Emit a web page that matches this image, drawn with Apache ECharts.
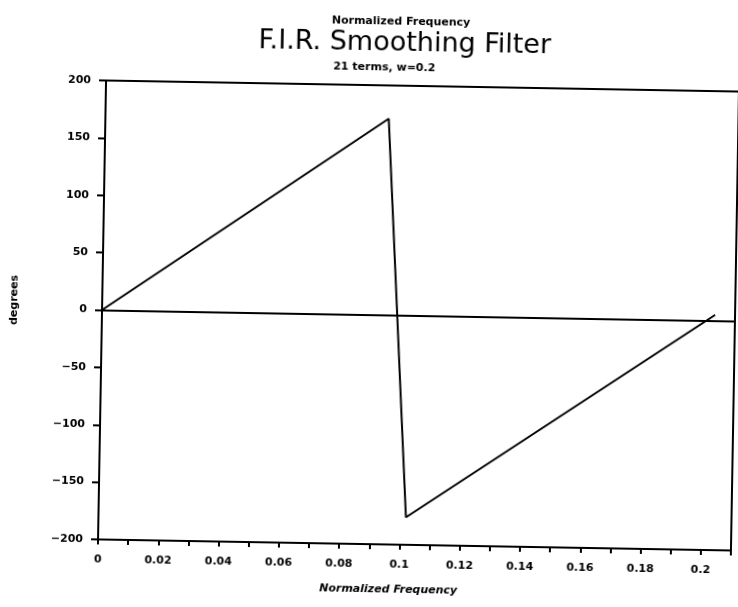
<!DOCTYPE html>
<html>
<head>
<meta charset="utf-8">
<title>F.I.R. Smoothing Filter</title>
<script src="https://cdn.jsdelivr.net/npm/echarts@6/dist/echarts.min.js"></script>
<style>
  html, body { margin: 0; padding: 0; background: #fff; overflow: hidden; }
  /* the plotted sheet sits about one degree off square */
  #chart { width: 738px; height: 607px; transform: rotate(1deg); transform-origin: 419px 315px; }
</style>
</head>
<body>
<div id="chart"></div>
<script>
// Phase response of the smoothing filter (normalized frequency, degrees)
const freq  = [0, 0.094, 0.102, 0.2034];
const phase = [0, 171, -176, 5];

// Axis ticks
const xTickValues = [0, 0.02, 0.04, 0.06, 0.08, 0.1, 0.12, 0.14, 0.16, 0.18, 0.2];
const xTickLabels = ['0', '0.02', '0.04', '0.06', '0.08', '0.1', '0.12', '0.14', '0.16', '0.18', '0.2'];
const yTickValues = [-200, -150, -100, -50, 0, 50, 100, 150, 200];
const yTickLabels = ['\u2212200', '\u2212150', '\u2212100', '\u221250', '0', '50', '100', '150', '200'];

const topLabel = 'Normalized Frequency';
const mainTitle = 'F.I.R. Smoothing Filter';
const subTitle = '21 terms, w=0.2';
const xName = 'Normalized Frequency';
const yName = 'degrees';

const ink = '#000';
const tickFont = { fontFamily: 'DejaVu Sans', fontWeight: 'bold', fontSize: 11, color: ink };

const chart = echarts.init(document.getElementById('chart'), null, { renderer: 'canvas' });

chart.setOption({
  backgroundColor: '#fff',
  animation: false,
  title: [
    { text: topLabel, left: 391, top: 12, textAlign: 'center',
      textStyle: { fontFamily: 'DejaVu Sans', fontWeight: 'bold', fontSize: 11, color: ink } },
    { text: mainTitle, left: 395, top: 25, textAlign: 'center',
      textStyle: { fontFamily: 'DejaVu Sans', fontWeight: 'normal', fontSize: 27, color: ink } },
    { text: subTitle, left: 375, top: 58, textAlign: 'center',
      textStyle: { fontFamily: 'DejaVu Sans', fontWeight: 'bold', fontSize: 11, color: ink } }
  ],
  graphic: [
    { type: 'text', x: 14, y: 307, rotation: Math.PI / 2,
      style: { text: yName, textAlign: 'center', textVerticalAlign: 'middle',
               font: 'bold 11px "DejaVu Sans"', fill: ink } },
    { type: 'text', x: 393, y: 590,
      style: { text: xName, textAlign: 'center', textVerticalAlign: 'middle',
               font: 'italic bold 11px "DejaVu Sans"', fill: ink } }
  ],
  grid: {
    left: 102, top: 86, width: 635, height: 459,
    show: true, borderColor: ink, borderWidth: 2, backgroundColor: 'transparent'
  },
  xAxis: {
    type: 'value', min: 0, max: 0.21, interval: 0.01,
    axisLine: { show: true, onZero: false, lineStyle: { color: ink, width: 2 } },
    axisTick: { show: true, length: 5, lineStyle: { color: ink, width: 2 } },
    axisLabel: Object.assign({
      margin: 15, showMinLabel: true, showMaxLabel: true,
      formatter: function (v) {
        const i = xTickValues.findIndex(function (t) { return Math.abs(t - v) < 1e-9; });
        return i >= 0 ? xTickLabels[i] : '';
      }
    }, tickFont),
    splitLine: { show: false }
  },
  yAxis: {
    type: 'value', min: -200, max: 200, interval: 50,
    axisLine: { show: true, onZero: false, lineStyle: { color: ink, width: 2 } },
    axisTick: { show: true, length: 7, lineStyle: { color: ink, width: 2 } },
    axisLabel: Object.assign({
      margin: 15,
      formatter: function (v) {
        const i = yTickValues.indexOf(v);
        return i >= 0 ? yTickLabels[i] : '';
      }
    }, tickFont),
    splitLine: { show: false }
  },
  series: [{
    type: 'line',
    data: freq.map(function (f, i) { return [f, phase[i]]; }),
    showSymbol: false,
    symbol: 'none',
    lineStyle: { color: ink, width: 2 },
    markLine: {
      silent: true,
      symbol: ['none', 'none'],
      label: { show: false },
      lineStyle: { color: ink, width: 2, type: 'solid' },
      data: [{ yAxis: 0 }]
    }
  }]
});
</script>
</body>
</html>
